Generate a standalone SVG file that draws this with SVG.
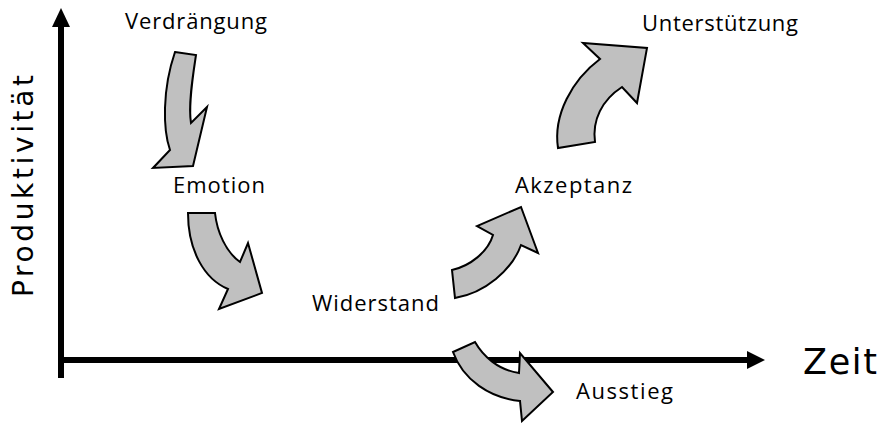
<svg xmlns="http://www.w3.org/2000/svg" width="882" height="423" viewBox="0 0 882 423">
  <style>
    .lbl { font-family: "Open Sans", "DejaVu Sans", sans-serif; font-size: 22px; fill: #000; }
    .axl { font-family: "DejaVu Sans", sans-serif; fill: #000; }
    .arr { fill: #c0c0c0; stroke: #000; stroke-width: 2; stroke-linejoin: miter; }
    .axis { stroke: #000; stroke-width: 6; fill: none; }
  </style>
  <rect width="882" height="423" fill="#fff"/>
  <g id="axes">
    <line class="axis" x1="61" y1="378" x2="61" y2="25"/>
    <polygon points="61,8 70,27 52,27" fill="#000"/>
    <line class="axis" x1="58" y1="360" x2="748" y2="360"/>
    <polygon points="765,360 747,351 747,369" fill="#000"/>
    <text class="axl" font-size="28" transform="translate(33,297) rotate(-90)" textLength="222" lengthAdjust="spacing">Produktivität</text>
    <text class="axl" font-size="35" x="803" y="374" textLength="74" lengthAdjust="spacing">Zeit</text>
  </g>
  <g id="verdraengung"><text class="lbl" x="125" y="29" textLength="142" lengthAdjust="spacing">Verdrängung</text></g>
  <g id="emotion"><text class="lbl" x="173" y="193" textLength="92" lengthAdjust="spacing">Emotion</text></g>
  <g id="widerstand"><text class="lbl" x="312" y="311" textLength="127" lengthAdjust="spacing">Widerstand</text></g>
  <g id="akzeptanz"><text class="lbl" x="515" y="193" textLength="117" lengthAdjust="spacing">Akzeptanz</text></g>
  <g id="unterstuetzung"><text class="lbl" x="642" y="31" textLength="156" lengthAdjust="spacing">Unterstützung</text></g>
  <g id="ausstieg"><text class="lbl" x="576" y="399" textLength="97" lengthAdjust="spacing">Ausstieg</text></g>
  <g id="connectors">
    <path class="arr" d="M175,52 L196,55 C193,75 188,105 191,123 L207,107 L193,166 L153,168 L170,150 C163,130 162,90 175,52 Z"/>
    <path class="arr" d="M188,213 L215,213 C217,232 226,252 240,262 L248,243 L262,293 L219,309 L228,289 C204,279 188,250 188,213 Z"/>
    <path class="arr" d="M452,270 C470,266 488,252 493,235 L477,226 L521,207 L538,253 L521,245 C512,270 485,293 455,298 Z"/>
    <path class="arr" d="M558,148 C553,115 572,80 600,59 L583,43 L647,48 L637,103 L622,87 C602,100 592,120 595,142 Z"/>
    <path class="arr" d="M453,352 L475,342 C483,356 498,370 519,373 L520,353 L553,392 L522,421 L520,401 C490,398 463,380 453,352 Z"/>
  </g>
</svg>
